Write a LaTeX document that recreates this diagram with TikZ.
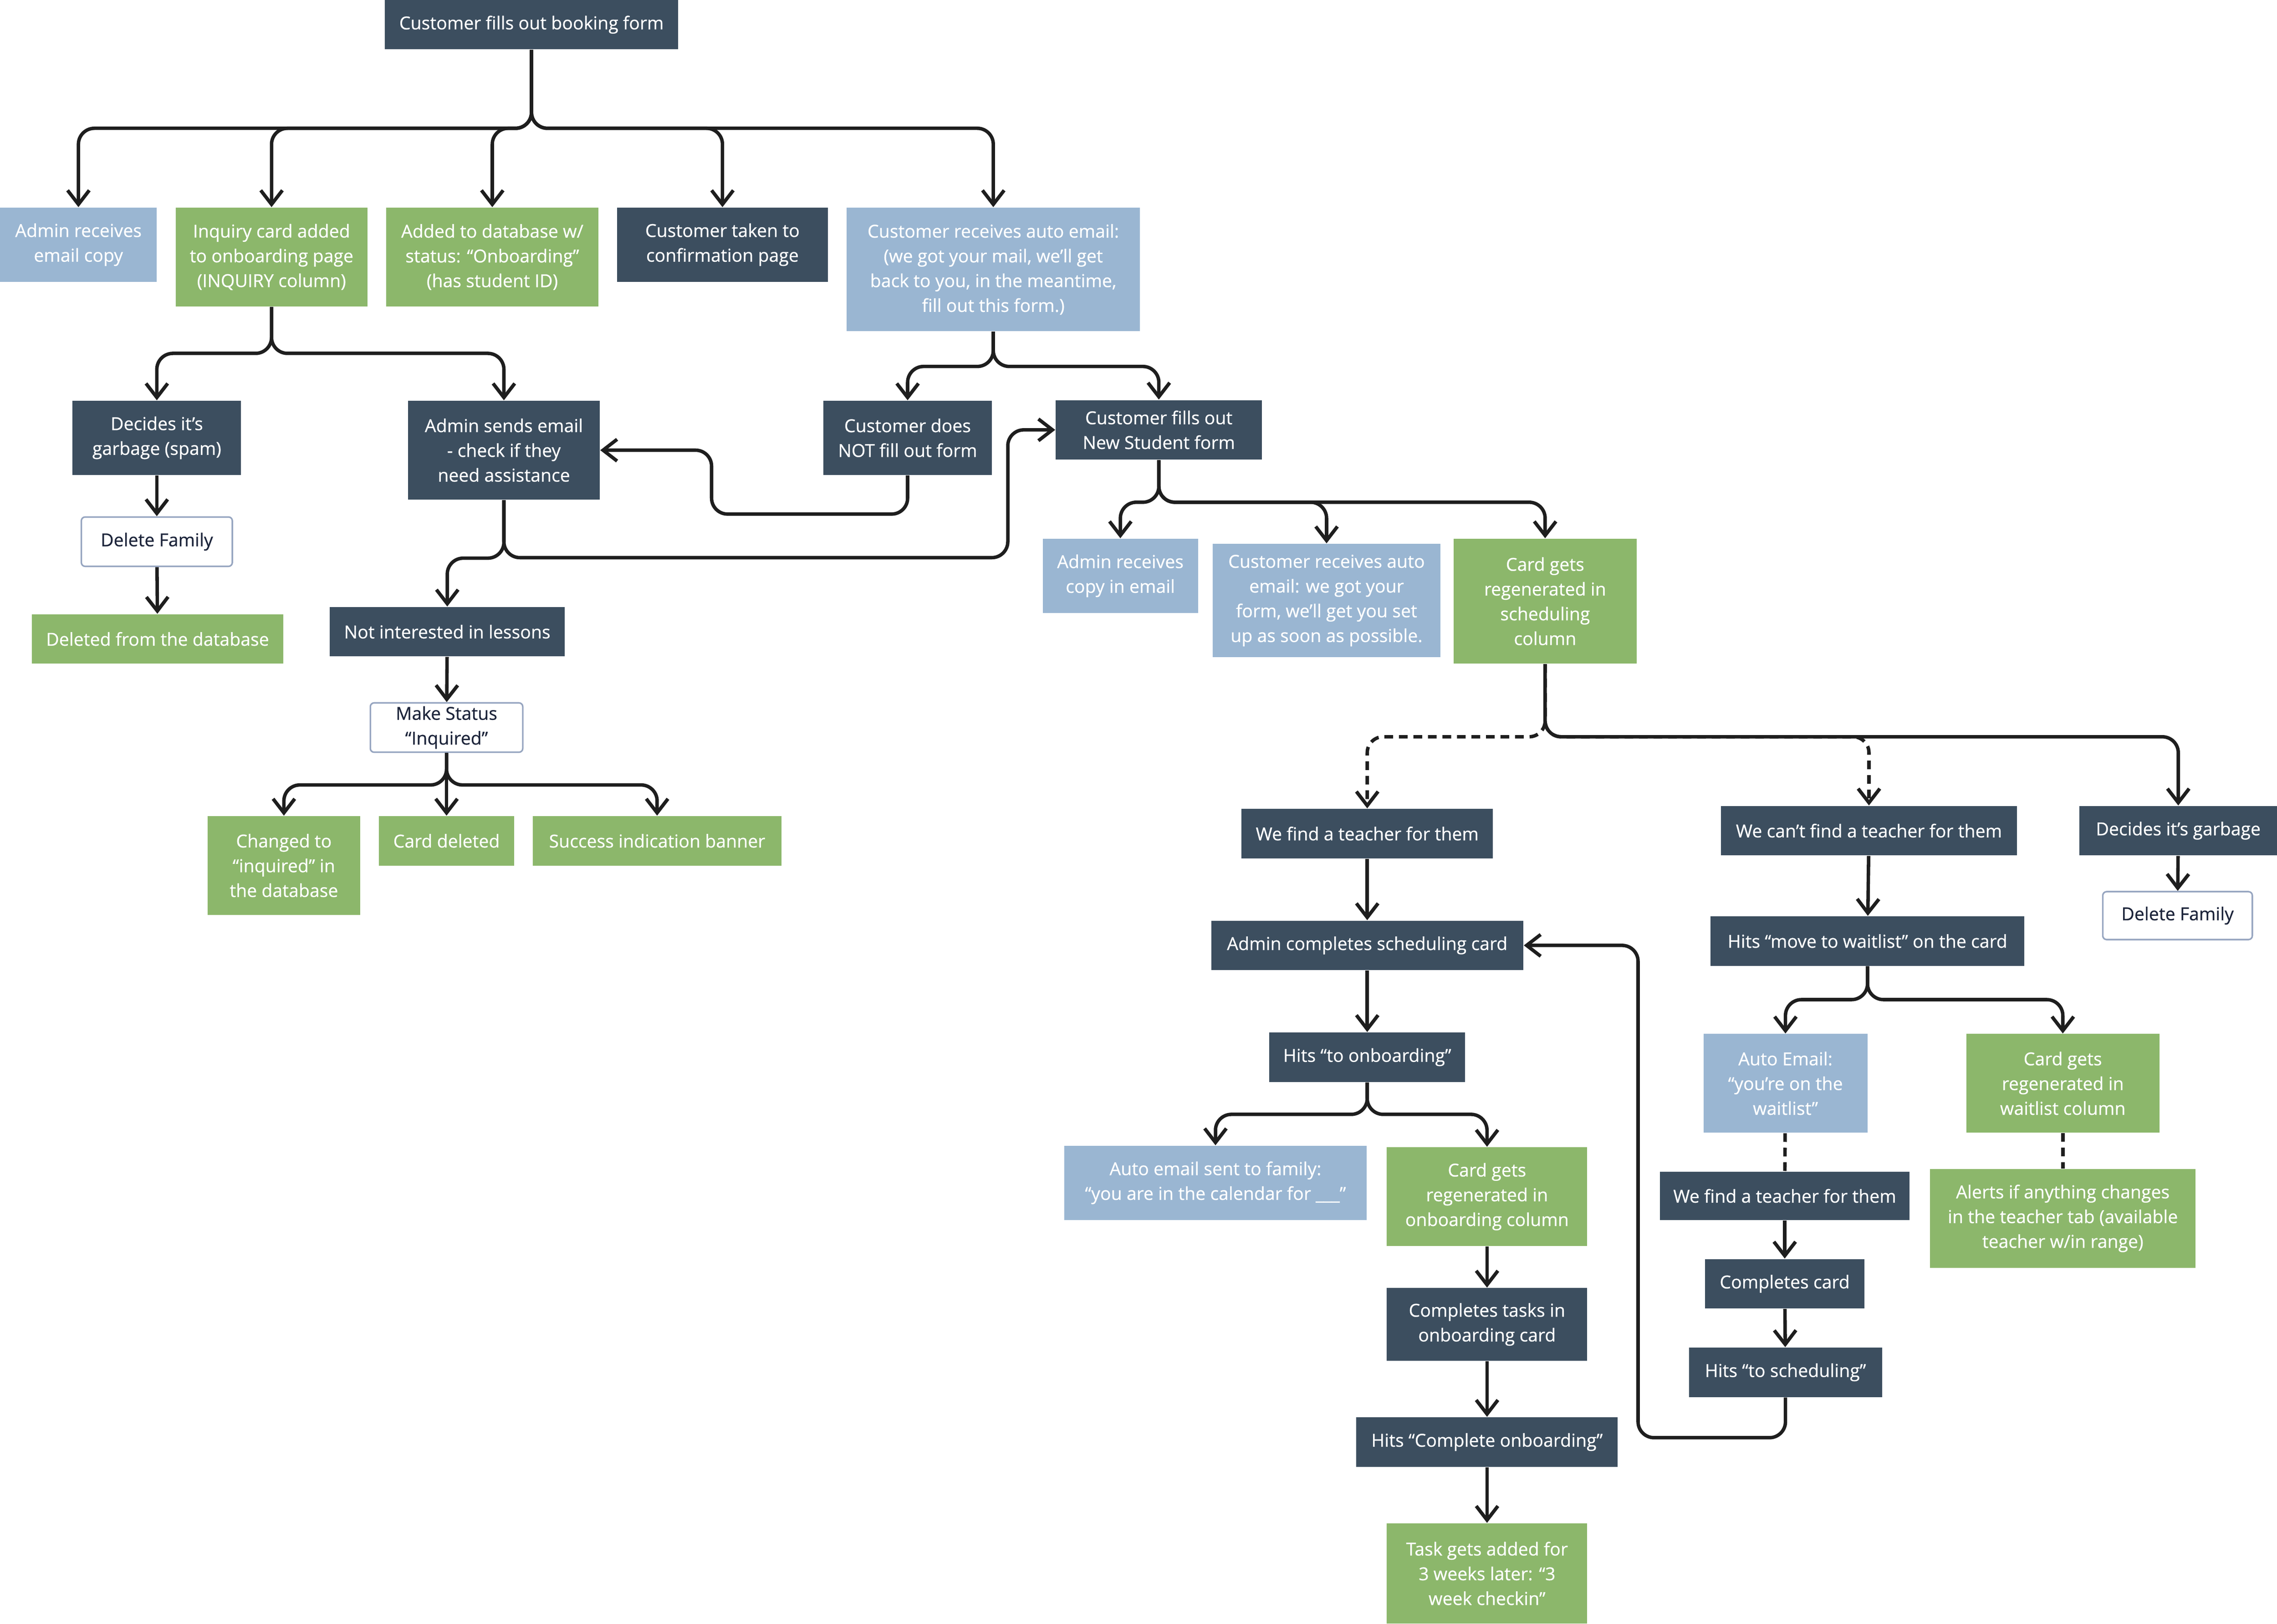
\documentclass[tikz,border=0pt]{standalone}
\usepackage{fontspec}
\setmainfont{Open Sans}
\newfontfamily\cardfont{Open Sans}[FakeBold=0.6]
\usepackage{tikz}
\usetikzlibrary{arrows.meta}
\definecolor{slate}{RGB}{60,78,95}
\definecolor{sky}{RGB}{154,182,210}
\definecolor{leaf}{RGB}{140,183,107}
\definecolor{rim}{RGB}{150,165,192}
\definecolor{ink}{RGB}{28,36,58}
\definecolor{wire}{RGB}{30,30,30}
\tikzstyle{card}=[inner sep=0pt,align=center,text=white,font=\cardfont\fontsize{7}{9.7}\selectfont,minimum height=0.68cm]
\tikzstyle{dark}=[card,fill=slate]
\tikzstyle{mail}=[card,fill=sky]
\tikzstyle{done}=[card,fill=leaf]
\tikzstyle{plain}=[card,fill=white,draw=rim,line width=0.6pt,rounded corners=1.5pt,text=ink]
\tikzstyle{arrow}=[-{Straight Barb[length=5.5pt,width=8.5pt]},line width=1.35pt,draw=wire,rounded corners=0.22cm]
\tikzstyle{maybe}=[arrow,dash pattern=on 0.12cm off 0.08cm]
\tikzstyle{link}=[line width=1.35pt,draw=wire,dash pattern=on 0.12cm off 0.08cm]
\tikzset{every picture/.style={
    x=0.02cm,y=-0.02cm
  }
}
\begin{document}
\begin{tikzpicture}
      \useasboundingbox (0,0) rectangle (1568,1118);
      % booking form and first reactions
      \node[dark,minimum width=4.04cm] at (366,17) (book) {Customer fills out booking form};
      \node[mail,minimum width=2.16cm,minimum height=1.02cm] at (54,168.5) (adm) {Admin receives\\email copy};
      \node[done,minimum width=2.64cm,minimum height=1.36cm] at (187,177) (inq) {Inquiry card added\\to onboarding page\\(INQUIRY column)};
      \node[done,minimum width=2.92cm,minimum height=1.36cm] at (339,177) (db) {Added to database w/\\status: “Onboarding”\\(has student ID)};
      \node[dark,minimum width=2.9cm,minimum height=1.02cm] at (497.5,168.5) (conf) {Customer taken to\\confirmation page};
      \node[mail,minimum width=4.04cm,minimum height=1.7cm] at (684,185.5) (auto) {Customer receives auto email:\\(we got your mail, we’ll get\\back to you, in the meantime,\\fill out this form.)};
      % inquiry side
      \node[dark,minimum width=2.32cm,minimum height=1.02cm] at (108,301.5) (spam) {Decides it’s\\garbage (spam)};
      \node[dark,minimum width=2.64cm,minimum height=1.36cm] at (347,310) (asa) {Admin sends email\\- check if they\\need assistance};
      \node[dark,minimum width=2.32cm,minimum height=1.02cm] at (625,301.5) (cdn) {Customer does\\NOT fill out form};
      \node[dark,minimum width=2.84cm,minimum height=0.82cm] at (798,296) (nsf) {Customer fills out\\New Student form};
      \node[plain,minimum width=2.08cm] at (108,373) (del1) {Delete Family};
      \node[done,minimum width=3.46cm] at (108.5,440) (dfd) {Deleted from the database};
      \node[dark,minimum width=3.24cm] at (308,435) (nil) {Not interested in lessons};
      \node[plain,minimum width=2.1cm] at (307.5,501) (mks) {Make Status\\“Inquired”};
      \node[done,minimum width=2.1cm,minimum height=1.36cm] at (195.5,596) (chg) {Changed to\\“inquired” in\\the database};
      \node[done,minimum width=1.86cm] at (307.5,579) (cdel) {Card deleted};
      \node[done,minimum width=3.42cm] at (452.5,579) (suc) {Success indication banner};
      % new student form
      \node[mail,minimum width=2.14cm,minimum height=1.02cm] at (771.5,396.5) (arc) {Admin receives\\copy in email};
      \node[mail,minimum width=3.14cm,minimum height=1.56cm] at (913.5,413.5) (cra) {Customer receives auto\\email: we got your\\form, we’ll get you set\\up as soon as possible.};
      \node[done,minimum width=2.52cm,minimum height=1.72cm] at (1064,414) (cgs) {Card gets\\regenerated in\\scheduling\\column};
      \node[dark,minimum width=3.46cm] at (941.5,574) (wf1) {We find a teacher for them};
      \node[dark,minimum width=4.08cm] at (1287,572) (cant) {We can’t find a teacher for them};
      \node[dark,minimum width=2.72cm] at (1500,572) (gar) {Decides it’s garbage};
      \node[plain,minimum width=2.06cm,minimum height=0.66cm] at (1499.5,630.5) (del2) {Delete Family};
      % scheduling to onboarding
      \node[dark,minimum width=4.3cm] at (941.5,651) (asc) {Admin completes scheduling card};
      \node[dark,minimum width=2.7cm] at (941.5,728) (hto) {Hits “to onboarding”};
      \node[mail,minimum width=4.16cm,minimum height=1.02cm] at (837,814.5) (aes) {Auto email sent to family:\\“you are in the calendar for \_\_\_”};
      \node[done,minimum width=2.76cm,minimum height=1.36cm] at (1024,824) (cgo) {Card gets\\regenerated in\\onboarding column};
      \node[dark,minimum width=2.76cm,minimum height=1cm] at (1024,912) (ctk) {Completes tasks in\\onboarding card};
      \node[dark,minimum width=3.6cm] at (1024,993) (hco) {Hits “Complete onboarding”};
      \node[done,minimum width=2.76cm,minimum height=1.38cm] at (1024,1083.5) (tga) {Task gets added for\\3 weeks later: “3\\week checkin”};
      % waitlist
      \node[dark,minimum width=4.32cm] at (1286,648) (mtw) {Hits “move to waitlist” on the card};
      \node[mail,minimum width=2.26cm,minimum height=1.36cm] at (1229.5,746) (aew) {Auto Email:\\“you’re on the\\waitlist”};
      \node[done,minimum width=2.66cm,minimum height=1.36cm] at (1420.5,746) (cgw) {Card gets\\regenerated in\\waitlist column};
      \node[dark,minimum width=3.44cm,minimum height=0.66cm] at (1229,823.5) (wf2) {We find a teacher for them};
      \node[done,minimum width=3.66cm,minimum height=1.36cm] at (1420.5,839) (alr) {Alerts if anything changes\\in the teacher tab (available\\teacher w/in range)};
      \node[dark,minimum width=2.2cm] at (1229,884) (cc) {Completes card};
      \node[dark,minimum width=2.66cm] at (1229.5,945) (hts) {Hits “to scheduling”};
      % connectors
      \draw[arrow] (book.south) -- ++(0,54) -| (adm.north);
      \draw[arrow] (book.south) -- ++(0,54) -| (inq.north);
      \draw[arrow] (book.south) -- ++(0,54) -| (db.north);
      \draw[arrow] (book.south) -- ++(0,54) -| (conf.north);
      \draw[arrow] (book.south) -- ++(0,54) -| (auto.north);
      \draw[arrow] (inq.south) -- ++(0,32) -| (spam.north);
      \draw[arrow] (inq.south) -- ++(0,32) -| (asa.north);
      \draw[arrow] (auto.south) -- ++(0,24) -| (cdn.north);
      \draw[arrow] (auto.south) -- ++(0,24) -| (nsf.north);
      \draw[arrow] (spam) -- (del1);
      \draw[arrow] (del1) -- (dfd);
      \draw[arrow] (cdn.south) |- (490,354) |- (asa.east);
      \draw[arrow] (asa.south) -- ++(0,40) -| (nil.north);
      \draw[arrow] (asa.south) |- (694,384) |- (nsf.west);
      \draw[arrow] (nil) -- (mks);
      \draw[arrow] (mks.south) -- ++(0,22) -| (chg.north);
      \draw[arrow] (mks) -- (cdel);
      \draw[arrow] (mks.south) -- ++(0,22) -| (suc.north);
      \draw[arrow] (nsf.south) -- ++(0,29) -| (arc.north);
      \draw[arrow] (nsf.south) -- ++(0,29) -| (cra.north);
      \draw[arrow] (nsf.south) -- ++(0,29) -| (cgs.north);
      \draw[maybe] (cgs.south) -- ++(0,50) -| (wf1.north);
      \draw[maybe] (cgs.south) -- ++(0,50) -| (cant.north);
      \draw[arrow] (cgs.south) -- ++(0,50) -| (gar.north);
      \draw[arrow] (gar) -- (del2);
      \draw[arrow] (wf1) -- (asc);
      \draw[arrow] (asc) -- (hto);
      \draw[arrow] (hto.south) -- ++(0,22) -| (aes.north);
      \draw[arrow] (hto.south) -- ++(0,22) -| (cgo.north);
      \draw[arrow] (cgo) -- (ctk);
      \draw[arrow] (ctk) -- (hco);
      \draw[arrow] (hco) -- (tga);
      \draw[arrow] (cant) -- (mtw);
      \draw[arrow] (mtw.south) -- ++(0,23) -| (aew.north);
      \draw[arrow] (mtw.south) -- ++(0,23) -| (cgw.north);
      \draw[link] (aew) -- (wf2);
      \draw[link] (cgw) -- (alr);
      \draw[arrow] (wf2) -- (cc);
      \draw[arrow] (cc) -- (hts);
      \draw[arrow] (hts.south) |- (1128,990) |- (asc.east);
    \end{tikzpicture}
\end{document}
